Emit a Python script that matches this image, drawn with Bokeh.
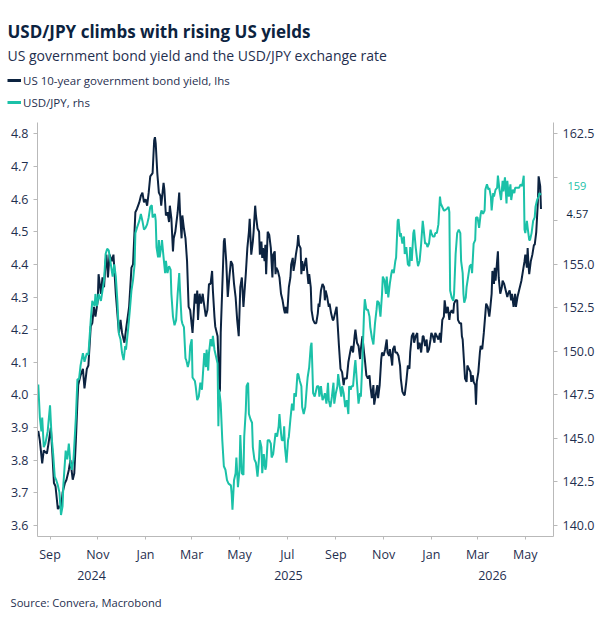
import pandas as pd
from bokeh.embed import file_html
from bokeh.layouts import column
from bokeh.models import (ColumnDataSource, CustomJSTickFormatter, DatetimeTickFormatter,
                          FixedTicker, Label, Legend, LegendItem, LinearAxis, MonthsTicker,
                          NumeralTickFormatter, Range1d)
from bokeh.plotting import figure
from bokeh.resources import INLINE

# ---------------------------------------------------------------- data
# Daily series sampled at turning points; day numbers count from START.
START = pd.Timestamp("2024-08-16")

yield_days = [
    1, 3, 6, 8, 12, 14, 17, 19, 21, 23, 26, 28, 30, 32, 35, 37, 40, 42, 45, 47,
    49, 51, 52, 55, 58, 60, 63, 65, 68, 70, 72, 74, 77, 78, 81, 83, 85, 87, 88, 90,
    92, 95, 97, 100, 102, 104, 106, 108, 111, 113, 117, 120, 122, 125, 127, 130, 132, 134, 136, 138,
    140, 142, 144, 147, 149, 150, 151, 153, 155, 157, 158, 161, 162, 164, 166, 168, 169, 171, 173, 174,
    176, 179, 181, 182, 184, 185, 187, 189, 191, 193, 195, 198, 199, 201, 203, 204, 205, 207, 209, 211,
    212, 215, 217, 219, 221, 223, 224, 226, 227, 230, 232, 233, 234, 236, 238, 239, 241, 243, 245, 247,
    249, 251, 253, 255, 257, 259, 261, 263, 266, 268, 270, 271, 273, 275, 276, 278, 279, 281, 283, 284,
    286, 287, 288, 290, 291, 292, 294, 296, 298, 300, 301, 303, 304, 305, 307, 309, 311, 313, 315, 316,
    317, 319, 321, 323, 324, 326, 327, 329, 330, 332, 333, 334, 336, 337, 338, 340, 342, 343, 344, 346,
    347, 349, 350, 352, 354, 356, 358, 359, 360, 362, 364, 366, 367, 368, 370, 372, 373, 375, 377, 378,
    381, 382, 383, 385, 387, 389, 391, 392, 395, 397, 400, 401, 403, 405, 406, 408, 410, 412, 413, 415,
    417, 418, 420, 422, 424, 425, 427, 429, 430, 432, 434, 435, 437, 439, 440, 442, 444, 446, 447, 449,
    450, 452, 453, 454, 456, 457, 459, 461, 463, 464, 466, 468, 469, 471, 473, 475, 476, 478, 480, 481,
    483, 485, 486, 488, 490, 492, 493, 495, 497, 498, 500, 502, 503, 505, 507, 508, 510, 512, 514, 515,
    517, 519, 520, 522, 524, 526, 527, 529, 531, 532, 534, 536, 537, 539, 541, 542, 543, 545, 546, 548,
    549, 551, 553, 554, 556, 557, 559, 560, 561, 563, 565, 566, 568, 570, 572, 573, 575, 577, 578, 580,
    581, 583, 584, 585, 587, 588, 589, 591, 593, 594, 596, 598, 600, 601, 603, 605, 606, 608, 610, 611,
    613, 615, 617, 618, 620, 622, 623, 625, 626, 627, 628, 630, 632, 634, 635, 637, 639, 640, 642, 643,
]
yield_10y = [
    3.89, 3.86, 3.79, 3.83, 3.82, 3.85, 3.90, 3.82, 3.73, 3.72, 3.65, 3.66, 3.65, 3.70, 3.73, 3.74, 3.77, 3.80, 3.74, 3.76,
    3.86, 3.98, 4.03, 4.06, 4.08, 4.02, 4.08, 4.09, 4.21, 4.22, 4.27, 4.24, 4.29, 4.37, 4.31, 4.36, 4.33, 4.41, 4.43, 4.36,
    4.43, 4.41, 4.43, 4.31, 4.25, 4.19, 4.23, 4.19, 4.16, 4.20, 4.27, 4.39, 4.40, 4.56, 4.57, 4.59, 4.61, 4.62, 4.59, 4.60,
    4.58, 4.62, 4.67, 4.68, 4.78, 4.79, 4.77, 4.68, 4.62, 4.61, 4.58, 4.65, 4.63, 4.55, 4.56, 4.53, 4.58, 4.54, 4.44, 4.48,
    4.50, 4.56, 4.62, 4.56, 4.48, 4.55, 4.51, 4.48, 4.41, 4.27, 4.26, 4.19, 4.23, 4.31, 4.28, 4.32, 4.23, 4.31, 4.28, 4.31,
    4.29, 4.24, 4.26, 4.34, 4.34, 4.38, 4.32, 4.24, 4.21, 4.18, 4.05, 4.01, 4.19, 4.33, 4.47, 4.48, 4.41, 4.30, 4.36, 4.41,
    4.40, 4.34, 4.30, 4.23, 4.18, 4.33, 4.36, 4.27, 4.37, 4.45, 4.50, 4.54, 4.43, 4.47, 4.50, 4.58, 4.55, 4.51, 4.50, 4.43,
    4.47, 4.42, 4.45, 4.41, 4.46, 4.37, 4.50, 4.49, 4.45, 4.36, 4.43, 4.44, 4.37, 4.39, 4.38, 4.36, 4.31, 4.29, 4.26, 4.25,
    4.27, 4.25, 4.33, 4.36, 4.40, 4.42, 4.38, 4.41, 4.43, 4.46, 4.49, 4.46, 4.45, 4.37, 4.41, 4.38, 4.41, 4.42, 4.39, 4.34,
    4.37, 4.33, 4.26, 4.23, 4.22, 4.22, 4.25, 4.28, 4.27, 4.32, 4.34, 4.33, 4.29, 4.32, 4.30, 4.27, 4.28, 4.25, 4.23, 4.23,
    4.26, 4.27, 4.23, 4.15, 4.08, 4.07, 4.03, 4.05, 4.05, 4.10, 4.14, 4.15, 4.13, 4.18, 4.20, 4.16, 4.15, 4.11, 4.14, 4.18,
    4.13, 4.11, 4.06, 4.05, 4.06, 4.03, 3.99, 4.03, 3.97, 4.00, 4.03, 3.99, 4.03, 4.11, 4.13, 4.12, 4.14, 4.17, 4.13, 4.12,
    4.14, 4.11, 4.09, 4.14, 4.15, 4.13, 4.13, 4.12, 4.09, 4.05, 4.01, 4.00, 4.00, 4.04, 4.09, 4.08, 4.13, 4.18, 4.19, 4.16,
    4.18, 4.19, 4.14, 4.16, 4.13, 4.18, 4.18, 4.15, 4.17, 4.13, 4.14, 4.17, 4.19, 4.18, 4.16, 4.19, 4.18, 4.17, 4.19, 4.16,
    4.23, 4.24, 4.29, 4.25, 4.27, 4.23, 4.25, 4.26, 4.25, 4.28, 4.29, 4.29, 4.23, 4.22, 4.22, 4.18, 4.17, 4.09, 4.05, 4.04,
    4.09, 4.08, 4.07, 4.04, 4.06, 4.04, 4.03, 3.97, 4.04, 4.07, 4.13, 4.15, 4.14, 4.19, 4.25, 4.28, 4.27, 4.24, 4.26, 4.31,
    4.38, 4.34, 4.39, 4.35, 4.41, 4.44, 4.36, 4.31, 4.33, 4.35, 4.34, 4.32, 4.30, 4.31, 4.32, 4.29, 4.31, 4.27, 4.31, 4.27,
    4.30, 4.32, 4.34, 4.35, 4.38, 4.41, 4.43, 4.39, 4.45, 4.40, 4.37, 4.41, 4.43, 4.46, 4.46, 4.50, 4.59, 4.67, 4.64, 4.57,
]

jpy_days = [
    1, 3, 5, 6, 8, 10, 13, 16, 18, 20, 22, 24, 26, 28, 30, 32, 33, 36, 38, 40,
    42, 44, 46, 49, 51, 53, 55, 58, 60, 63, 65, 68, 70, 73, 74, 76, 78, 81, 83, 85,
    87, 89, 91, 93, 96, 98, 100, 102, 104, 106, 108, 110, 112, 113, 116, 118, 120, 122, 124, 125,
    127, 130, 132, 134, 136, 138, 140, 142, 144, 146, 147, 150, 151, 152, 154, 155, 156, 158, 159, 161,
    163, 164, 166, 168, 170, 171, 173, 175, 177, 179, 181, 182, 184, 185, 187, 189, 190, 192, 194, 195,
    197, 198, 201, 202, 204, 206, 208, 210, 211, 213, 215, 216, 218, 219, 221, 223, 224, 226, 228, 230,
    231, 232, 234, 236, 238, 240, 242, 244, 247, 248, 249, 251, 253, 254, 256, 258, 259, 261, 263, 264,
    266, 267, 269, 270, 272, 274, 275, 277, 279, 281, 283, 284, 286, 287, 289, 291, 292, 294, 296, 298,
    299, 301, 303, 304, 306, 308, 309, 311, 312, 314, 315, 316, 318, 320, 321, 323, 325, 327, 328, 330,
    332, 333, 335, 337, 338, 340, 342, 344, 345, 347, 349, 350, 351, 352, 354, 355, 357, 359, 360, 362,
    364, 366, 367, 369, 371, 372, 374, 376, 378, 379, 381, 383, 384, 386, 388, 389, 391, 393, 395, 397,
    398, 400, 401, 403, 405, 406, 408, 410, 412, 413, 415, 417, 418, 420, 422, 424, 425, 427, 429, 431,
    433, 434, 436, 438, 440, 441, 443, 445, 446, 448, 450, 452, 453, 455, 457, 458, 460, 461, 463, 464,
    466, 468, 469, 471, 473, 475, 476, 478, 480, 481, 483, 485, 486, 488, 490, 492, 493, 495, 497, 498,
    500, 502, 503, 505, 507, 508, 510, 512, 514, 515, 517, 519, 520, 523, 525, 526, 527, 529, 531, 532,
    534, 536, 538, 540, 541, 543, 544, 545, 547, 548, 550, 552, 554, 555, 557, 559, 560, 562, 564, 566,
    567, 569, 571, 572, 574, 576, 577, 579, 580, 582, 583, 585, 587, 588, 590, 592, 594, 595, 597, 599,
    600, 602, 604, 605, 607, 609, 610, 612, 614, 615, 617, 619, 621, 622, 623, 625, 626, 628, 629, 631,
    633, 635, 636, 638, 640, 641, 643,
]
usd_jpy = [
    148.1, 146.2, 145.4, 146.2, 144.5, 144.7, 145.4, 146.9, 145.1, 144.1, 142.8, 142.6, 142.3, 141.9, 140.6, 141.1, 142.3, 144.3, 143.8, 144.7,
    143.6, 143.2, 143.8, 146.2, 148.4, 148.4, 149.2, 149.9, 149.4, 149.9, 149.8, 151.8, 152.9, 152.6, 153.3, 152.6, 153.3, 152.9, 153.5, 154.1,
    155.6, 155.9, 155.8, 155.2, 154.3, 155.0, 154.3, 152.9, 151.0, 150.7, 149.9, 149.5, 150.3, 150.1, 151.4, 152.4, 153.5, 154.1, 155.0, 156.8,
    157.1, 157.5, 157.9, 157.5, 157.0, 157.1, 157.3, 157.7, 158.3, 158.4, 157.7, 157.9, 157.5, 156.0, 155.4, 156.4, 155.4, 156.0, 156.4, 155.4,
    154.5, 155.2, 154.5, 154.9, 154.7, 153.3, 152.0, 151.5, 151.8, 153.3, 154.5, 153.5, 151.8, 151.6, 151.4, 149.6, 149.5, 149.1, 149.5, 150.3,
    150.7, 148.5, 148.3, 148.0, 147.2, 147.4, 148.2, 147.8, 148.5, 149.9, 149.1, 150.1, 148.9, 149.9, 150.7, 150.3, 150.9, 150.1, 149.7, 149.3,
    145.7, 147.8, 147.0, 144.9, 143.4, 143.2, 142.6, 142.4, 142.3, 141.8, 140.9, 142.6, 143.0, 143.9, 142.2, 143.2, 145.2, 143.0, 142.9, 145.1,
    146.6, 148.0, 148.2, 146.4, 146.1, 145.9, 144.5, 143.8, 143.6, 142.8, 143.9, 144.9, 144.5, 143.0, 144.1, 143.2, 143.4, 144.9, 144.9, 144.7,
    143.9, 144.1, 144.9, 145.3, 145.1, 145.7, 146.4, 145.3, 144.9, 144.9, 145.7, 144.5, 143.6, 144.9, 145.1, 146.1, 147.0, 146.6, 147.6, 147.4,
    148.7, 148.7, 148.3, 148.0, 146.8, 146.4, 146.8, 148.0, 148.5, 149.1, 150.3, 150.5, 149.1, 147.6, 147.4, 147.6, 148.0, 148.0, 147.4, 148.0,
    147.2, 147.4, 147.6, 147.0, 148.2, 147.2, 146.8, 147.4, 148.2, 147.0, 147.6, 148.0, 148.7, 148.0, 147.4, 148.0, 147.6, 146.8, 147.2, 146.4,
    148.0, 147.8, 148.0, 148.0, 149.1, 149.5, 148.2, 147.0, 147.6, 147.4, 149.5, 152.2, 153.0, 152.4, 152.4, 152.0, 151.4, 150.8, 150.4, 151.6,
    152.4, 152.9, 152.8, 152.0, 153.3, 154.3, 154.1, 153.3, 154.3, 153.1, 153.9, 154.5, 154.7, 154.5, 155.2, 155.4, 157.5, 157.6, 156.6, 156.8,
    156.2, 156.6, 155.6, 156.0, 155.0, 154.9, 156.0, 155.2, 156.8, 157.0, 156.0, 155.2, 154.9, 155.2, 156.2, 157.5, 157.1, 156.2, 156.2, 156.0,
    156.2, 157.0, 156.8, 156.6, 156.6, 156.8, 156.8, 157.3, 158.9, 158.5, 158.3, 158.1, 158.1, 158.2, 158.3, 158.0, 153.5, 153.1, 152.9, 153.3,
    155.6, 156.8, 157.0, 156.8, 155.2, 154.5, 153.3, 152.8, 153.1, 153.7, 154.3, 154.9, 155.0, 154.5, 156.2, 156.4, 157.7, 157.7, 157.1, 157.9,
    158.1, 157.9, 158.1, 159.3, 159.6, 159.3, 159.4, 158.9, 158.1, 159.1, 158.9, 159.3, 159.4, 160.1, 159.3, 158.7, 159.8, 159.2, 160.0, 158.5,
    159.8, 158.9, 159.6, 158.7, 159.3, 159.1, 159.4, 159.4, 159.4, 159.4, 159.6, 159.5, 160.1, 157.0, 156.8, 157.5, 157.1, 156.4, 156.4, 156.8,
    157.5, 157.7, 158.3, 158.7, 158.9, 159.1, 159.0,
]

yield_ticks = [3.6, 3.7, 3.8, 3.9, 4.0, 4.1, 4.2, 4.3, 4.4, 4.5, 4.6, 4.7, 4.8]
jpy_ticks = [140.0, 142.5, 145.0, 147.5, 150.0, 152.5, 155.0, 157.5, 160.0, 162.5]

TITLE = "USD/JPY climbs with rising US yields"
SUBTITLE = "US government bond yield and the USD/JPY exchange rate"
YIELD_NAME = "US 10-year government bond yield, lhs"
JPY_NAME = "USD/JPY, rhs"
SOURCE = "Source: Convera, Macrobond"

# ---------------------------------------------------------------- style
NAVY = "#0c2340"
TEAL = "#1bc1a8"
TEXT = "#1f2f4f"
GRID = "#b9b9b9"
FONT = "Open Sans"

W = 605
HEAD_H, MAIN_H, FOOT_H = 122, 468, 30          # stacked bands of the page
LEFT, RIGHT = 37, 553                          # frame edges (page x)
FRAME_BOTTOM = 414                             # frame height inside the main band

X_START = START
X_END = pd.Timestamp("2026-06-06")
Y_LO, Y_HI = 3.566, 4.835


# right-hand scale is tied to the left one so that 3.6 <-> 140 and 4.8 <-> 162.5
def to_jpy(v):
    return jpy_ticks[0] + (v - yield_ticks[0]) * (jpy_ticks[-1] - jpy_ticks[0]) / (yield_ticks[-1] - yield_ticks[0])


def ms(ts):
    return ts.value / 1e6


def bare_figure(height):
    """A text band whose data units are page pixels (y grows downward)."""
    f = figure(width=W, height=height, x_range=Range1d(0, W), y_range=Range1d(height, 0),
               x_axis_location=None, y_axis_location=None, toolbar_location=None,
               output_backend="svg", min_border=0, frame_align=False)
    f.outline_line_color = None
    f.grid.visible = False
    return f


# ---------------------------------------------------------------- header
head = bare_figure(HEAD_H)
head.add_layout(Label(x=7, y=30.5, text=TITLE, text_font=FONT, text_font_size="17px",
                      text_font_style="bold", text_color=NAVY, text_baseline="alphabetic"))
head.add_layout(Label(x=7, y=55, text=SUBTITLE, text_font=FONT, text_font_size="14px",
                      text_color=TEXT, text_baseline="alphabetic"))
# key renderers carry no visible points; they only lend their line style to the legend
key_yield = head.line([0.0], [float("nan")], line_color=NAVY, line_width=3)
key_jpy = head.line([0.0], [float("nan")], line_color=TEAL, line_width=3)
head.add_layout(Legend(items=[LegendItem(label=YIELD_NAME, renderers=[key_yield]),
                              LegendItem(label=JPY_NAME, renderers=[key_jpy])],
                       location=(7, HEAD_H - 112), orientation="vertical",
                       glyph_width=14, glyph_height=20, label_height=20, label_standoff=2,
                       spacing=2, padding=0, margin=0, border_line_color=None,
                       background_fill_alpha=0, label_text_font=FONT,
                       label_text_font_size="11.5px", label_text_color=TEXT))

# ---------------------------------------------------------------- main chart
ysrc = ColumnDataSource(dict(date=START + pd.to_timedelta(yield_days, unit="D"), v=yield_10y))
jsrc = ColumnDataSource(dict(date=START + pd.to_timedelta(jpy_days, unit="D"), v=usd_jpy))

p = figure(width=W, height=MAIN_H, x_axis_type="datetime", output_backend="svg",
           toolbar_location=None, x_range=Range1d(X_START, X_END), y_range=Range1d(Y_LO, Y_HI),
           min_border_left=LEFT, min_border_right=W - RIGHT,
           min_border_top=0, min_border_bottom=MAIN_H - FRAME_BOTTOM, frame_align=False)
p.extra_y_ranges = {"jpy": Range1d(to_jpy(Y_LO), to_jpy(Y_HI))}
p.outline_line_color = None
p.grid.visible = False
p.background_fill_color = "white"
p.border_fill_color = "white"

p.line("date", "v", source=ysrc, line_color=NAVY, line_width=2)
p.line("date", "v", source=jsrc, line_color=TEAL, line_width=2, y_range_name="jpy")


def style_axis(ax, size="12.5px", color=TEXT):
    ax.axis_line_color = GRID
    ax.major_tick_line_color = GRID
    ax.minor_tick_line_color = None
    ax.major_tick_in = 0
    ax.major_tick_out = 4
    ax.major_label_standoff = 5
    ax.major_label_text_font = FONT
    ax.major_label_text_font_size = size
    ax.major_label_text_color = color


left_ax = p.yaxis[0]
left_ax.ticker = FixedTicker(ticks=yield_ticks)
left_ax.formatter = NumeralTickFormatter(format="0.0")
style_axis(left_ax)

# right axis; the two labels next to the last-value tags are left blank
right_ax = LinearAxis(y_range_name="jpy", ticker=FixedTicker(ticks=jpy_ticks),
                      formatter=CustomJSTickFormatter(
                          args=dict(hidden=[157.5, 160.0]),
                          code="return hidden.includes(tick) ? '' : tick.toFixed(1);"))
style_axis(right_ax)
p.add_layout(right_ax, "right")

# last-value tags: one-label axes drawn back over the right-hand label column
px_per_jpy = FRAME_BOTTOM / (to_jpy(Y_HI) - to_jpy(Y_LO))
yield_last_jpy = to_jpy(yield_10y[-1])
tag_specs = [
    (f"{usd_jpy[-1]:.0f}", usd_jpy[-1] + 8.6 / px_per_jpy, TEAL, -30),
    (f"{yield_10y[-1]:.2f}", yield_last_jpy - 4.6 / px_per_jpy, NAVY, -31),
]
for text, pos, color, standoff in tag_specs:
    tag = LinearAxis(y_range_name="jpy", ticker=FixedTicker(ticks=[pos]),
                     formatter=CustomJSTickFormatter(args=dict(txt=text), code="return txt;"))
    style_axis(tag, size="11px", color=color)
    tag.axis_line_color = None
    tag.major_tick_line_color = None
    tag.major_tick_out = 0
    tag.major_label_standoff = standoff
    p.add_layout(tag, "right")

month_ax = p.xaxis[0]
month_ax.ticker = MonthsTicker(months=[0, 2, 4, 6, 8, 10])
month_ax.formatter = DatetimeTickFormatter(months="%b", days="%b")
style_axis(month_ax)
month_ax.major_tick_out = 3
month_ax.major_label_standoff = 6

# year captions sit under the middle of each year's visible stretch
bounds = [X_START, pd.Timestamp("2025-01-01"), pd.Timestamp("2026-01-01"), X_END]
year_mid = [(ms(a) + ms(b)) / 2 for a, b in zip(bounds[:-1], bounds[1:])]
year_ax = LinearAxis(ticker=FixedTicker(ticks=year_mid),
                     formatter=CustomJSTickFormatter(code="return String(new Date(tick).getUTCFullYear());"))
style_axis(year_ax)
year_ax.axis_line_color = None
year_ax.major_tick_line_color = None
year_ax.major_tick_out = 0
year_ax.major_label_standoff = 5
p.add_layout(year_ax, "below")

# ---------------------------------------------------------------- footer
foot = bare_figure(FOOT_H)
foot.add_layout(Label(x=10, y=12, text=SOURCE, text_font=FONT, text_font_size="11.2px",
                      text_color=TEXT, text_baseline="alphabetic"))

page = column(head, p, foot, spacing=0)
open("out.html", "w").write(file_html(page, INLINE))
